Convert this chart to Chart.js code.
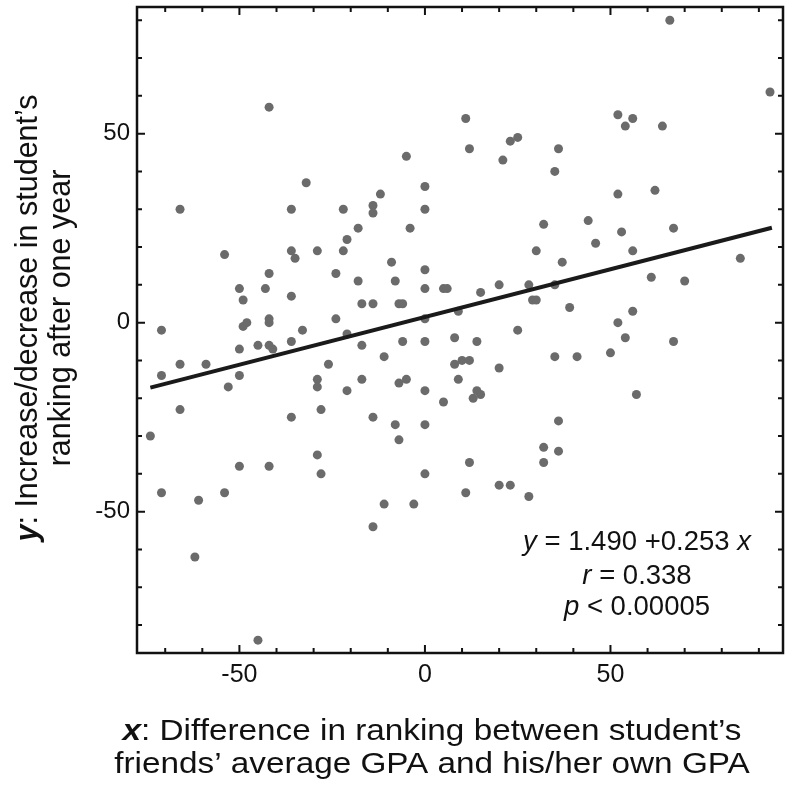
<!DOCTYPE html>
<html>
<head>
<meta charset="utf-8">
<script src="https://cdn.jsdelivr.net/npm/chart.js@4.4.1/dist/chart.umd.min.js"></script>
<style>
  html, body { margin: 0; padding: 0; background: #fff; }
  #wrap { width: 792px; height: 792px; }
</style>
</head>
<body>
<div id="wrap"><canvas id="scatterChart" width="792" height="792"></canvas></div>
<script>
// x: difference in ranking (friends' avg GPA vs own GPA), y: change in ranking after one year
const xVals = [
  -42, -66, -36, -5, -32, 0, -12, -22, -14, -14, 0, 11, 12, 23, 25, 21, 36, 35, 52, 52,
  32, 44, 66, 93, 56, 54, 64, 62, 67, -36, -35, -54, -42, -50, -43, -49, -36, -71, -49, -48,
  -42, -42, -45, -42, -41, -36, -50, -71, -66, -59, -50, -53, -66, -36, -74, -18, -4, -21, -29, -22,
  -9, 0, -24, -18, -8, 0, 5, 6, -17, -14, -7, -6, -24, 0, 9, -33, -21, -17, -6, 0,
  8, -11, -26, 8, -29, -29, -17, -7, -5, 9, -21, 0, 5, -28, -14, -8, 0, -7, 53, 46,
  30, 37, 15, 20, 28, 35, 29, 30, 39, 52, 14, 25, 10, 12, 20, 35, 41, 50, 14, 15,
  13, 36, 56, 85, 61, 70, 56, 54, 67, 57, -50, -42, -71, -61, -54, -62, -45, -29, -28, 0,
  -11, -3, -14, 12, 11, 20, 23, 28, 32, 32, 36
];
const yVals = [
  57, 30, 30, 44, 37, 36, 34, 30, 31, 29, 30, 54, 46, 48, 49, 43, 46, 40, 55, 34,
  26, 27, 80, 61, 54, 52, 52, 35, 25, 19, 17, 18, 13, 9, 9, 6, 7, -2, -1, 0,
  1, 0, -6, -6, -7, -5, -7, -14, -11, -11, -14, -17, -23, -25, -30, 25, 25, 22, 19, 19,
  16, 14, 13, 11, 11, 9, 9, 9, 5, 5, 5, 5, 1, 1, 3, -2, -3, -6, -5, -5,
  -4, -9, -11, -11, -15, -17, -15, -16, -15, -15, -18, -18, -21, -23, -25, -27, -27, -31, 24, 21,
  19, 16, 8, 10, 10, 10, 6, 6, 4, 0, -5, -2, -10, -10, -12, -9, -9, -8, -18, -19,
  -20, -26, 19, 17, 12, 11, 3, -4, -5, -19, -38, -38, -45, -47, -45, -62, -84, -35, -40, -40,
  -48, -48, -54, -37, -45, -43, -43, -46, -33, -37, -34
];
// fitted line end points
const fitX = [-74, 93.5];
const fitY = [-17.2, 25.1];
const xTickLabels = [-50, 0, 50];
const yTickLabels = [-50, 0, 50];

const FONT = "'Liberation Sans', Arial, Helvetica, sans-serif";

// draws a line of mixed-style text centred on (cx, cy), optionally stretched sideways
function drawRich(ctx, parts, cx, cy, size, sx) {
  let total = 0;
  parts.forEach(p => {
    ctx.font = (p.style || '') + ' ' + size + 'px ' + FONT;
    p.w = ctx.measureText(p.t).width;
    total += p.w;
  });
  ctx.save();
  ctx.translate(cx, cy);
  ctx.scale(sx || 1, 1);
  let x = -total / 2;
  parts.forEach(p => {
    ctx.font = (p.style || '') + ' ' + size + 'px ' + FONT;
    ctx.fillText(p.t, x, 0);
    x += p.w;
  });
  ctx.restore();
}

const framePlugin = {
  id: 'frame',
  afterDraw(chart) {
    const ctx = chart.ctx;
    const a = chart.chartArea;
    const xs = chart.scales.x, ys = chart.scales.y;
    ctx.save();
    ctx.strokeStyle = '#111';
    ctx.lineWidth = 2;
    ctx.beginPath();
    for (let v = -70; v <= 90; v += 10) {
      const px = xs.getPixelForValue(v);
      const len = v % 50 === 0 ? 8 : 5;
      ctx.moveTo(px, a.bottom); ctx.lineTo(px, a.bottom - len);
      ctx.moveTo(px, a.top); ctx.lineTo(px, a.top + len);
    }
    for (let v = -80; v <= 80; v += 10) {
      const py = ys.getPixelForValue(v);
      const len = v % 50 === 0 ? 8 : 5;
      ctx.moveTo(a.left, py); ctx.lineTo(a.left + len, py);
      ctx.moveTo(a.right, py); ctx.lineTo(a.right - len, py);
    }
    ctx.stroke();
    ctx.lineWidth = 2.5;
    ctx.strokeRect(a.left, a.top, a.right - a.left, a.bottom - a.top);

    ctx.fillStyle = '#111';
    ctx.textBaseline = 'middle';
    ctx.textAlign = 'left';
    // stats box
    drawRich(ctx, [{t: 'y', style: 'italic'}, {t: ' = 1.490 +0.253 '}, {t: 'x', style: 'italic'}], 637, 542, 27.5);
    drawRich(ctx, [{t: 'r', style: 'italic'}, {t: ' = 0.338'}], 637, 576, 27.5);
    drawRich(ctx, [{t: 'p', style: 'italic'}, {t: ' < 0.00005'}], 637, 607, 27.5);
    // x title
    drawRich(ctx, [{t: 'x', style: 'italic bold'}, {t: ': Difference in ranking between student\u2019s'}], 432, 732, 30, 1.11);
    drawRich(ctx, [{t: 'friends\u2019 average GPA and his/her own GPA'}], 432, 765, 30, 1.11);
    // y title
    ctx.save();
    ctx.translate(29, 318);
    ctx.rotate(-Math.PI / 2);
    drawRich(ctx, [{t: 'y', style: 'italic bold'}, {t: ': Increase/decrease in student\u2019s'}], 0, 0, 30.5);
    ctx.restore();
    ctx.save();
    ctx.translate(62, 318);
    ctx.rotate(-Math.PI / 2);
    drawRich(ctx, [{t: 'ranking after one year'}], 0, 0, 30.5);
    ctx.restore();
    ctx.restore();
  }
};

function initScatter() {
  const points = xVals.map((x, i) => ({x: x, y: yVals[i]}));
  const fit = fitX.map((x, i) => ({x: x, y: fitY[i]}));
  new Chart(document.getElementById('scatterChart'), {
    type: 'scatter',
    data: {
      datasets: [{
        data: points,
        pointRadius: 4.5,
        pointBackgroundColor: '#6b6b6b',
        pointBorderWidth: 0,
        order: 2
      }, {
        type: 'line',
        data: fit,
        borderColor: '#1a1a1a',
        borderWidth: 4,
        pointRadius: 0,
        fill: false,
        order: 1
      }]
    },
    options: {
      responsive: false,
      animation: false,
      layout: { padding: { left: 0, top: 7, right: 9, bottom: 0 } },
      plugins: { legend: { display: false }, tooltip: { enabled: false } },
      scales: {
        x: {
          type: 'linear', min: -77.6, max: 96.5,
          afterBuildTicks: s => { s.ticks = xTickLabels.map(v => ({value: v})); },
          afterFit: s => { s.height = 139; s.paddingLeft = 0; s.paddingRight = 0; },
          grid: { display: false, drawTicks: false },
          border: { display: false },
          ticks: { color: '#111', padding: 7, font: { family: FONT, size: 25 } }
        },
        y: {
          type: 'linear', min: -87.4, max: 83.5,
          afterBuildTicks: s => { s.ticks = yTickLabels.map(v => ({value: v})); },
          afterFit: s => { s.width = 137; s.paddingTop = 0; s.paddingBottom = 0; },
          grid: { display: false, drawTicks: false },
          border: { display: false },
          ticks: { color: '#111', padding: 7, font: { family: FONT, size: 24 } }
        }
      }
    },
    plugins: [framePlugin]
  });
}

document.addEventListener('DOMContentLoaded', initScatter);
</script>
</body>
</html>
